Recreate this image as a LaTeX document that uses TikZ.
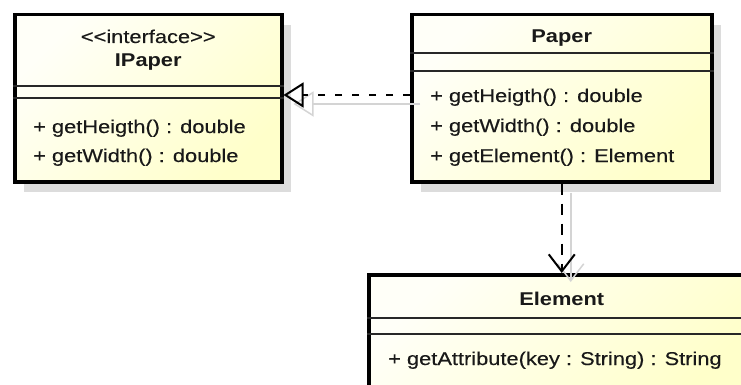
\documentclass[tikz,border=0pt]{standalone}
\usepackage{fontspec}
\newfontfamily\umlfont[FakeStretch=1.18,FakeBold=0.3,Ligatures=TeXOff]{Liberation Sans}
\newfontfamily\umlbold[FakeStretch=1.18,Ligatures=TeXOff]{Liberation Sans Bold}
\usetikzlibrary{arrows.meta,shadows,calc}
\definecolor{boxlight}{RGB}{255,255,248}
\definecolor{boxdeep}{RGB}{255,255,202}
\definecolor{shadowgray}{RGB}{220,220,220}
\definecolor{linkshadow}{RGB}{212,212,212}
\definecolor{sepgray}{RGB}{40,40,40}
\definecolor{inktext}{RGB}{25,25,25}

\begin{document}
\begin{tikzpicture}[x=1pt,y=-1pt,
  umlbox/.style={rectangle, draw=black, line width=3.5pt, anchor=north west,
    inner sep=0pt, top color=boxlight, bottom color=boxdeep, shading angle=45,
    drop shadow={shadow xshift=9pt, shadow yshift=-10pt, fill=shadowgray, opacity=1}},
  sepline/.style={draw=sepgray, line width=1.4pt},
  txt/.style={inner sep=0pt, font=\umlfont\fontsize{18.5}{30}\selectfont, text=inktext},
  titletxt/.style={txt, anchor=base, font=\umlbold\fontsize{18.5}{30}\selectfont},
  stereotxt/.style={txt, anchor=base},
  optxt/.style={txt, anchor=base west},
  realize/.style={draw=black, line width=2pt, dash pattern=on 7pt off 10pt,
    -{Triangle[open, length=20pt, width=25pt, line width=2pt]}},
  depend/.style={draw=black, line width=2pt, dash pattern=on 11pt off 9pt,
    -{Straight Barb[length=17pt, width=26pt, line width=2pt]}},
  linkshade/.style={draw=linkshadow, line width=1.5pt}
]
\useasboundingbox (0,0) rectangle (741,385);
\fill[white] (0,0) rectangle (741,385);
\clip (0,0) rectangle (741,385);

% class boxes
\node[umlbox, minimum width=267pt, minimum height=167pt] (ipaper) at (13,13) {};
\node[umlbox, minimum width=300pt, minimum height=167pt] (paper) at (410,13) {};
\node[umlbox, minimum width=386pt, minimum height=122pt] (element) at (367,273) {};

% compartment separators
\draw[sepline] (ipaper.west |- 0,86) -- (ipaper.east |- 0,86);
\draw[sepline] (ipaper.west |- 0,98) -- (ipaper.east |- 0,98);
\draw[sepline] (paper.west |- 0,53) -- (paper.east |- 0,53);
\draw[sepline] (paper.west |- 0,71) -- (paper.east |- 0,71);
\draw[sepline] (element.west |- 0,318) -- (element.east |- 0,318);
\draw[sepline] (element.west |- 0,334) -- (element.east |- 0,334);

% IPaper
\node[stereotxt] (ipstereo) at (ipaper.north |- 0,43) {<\kern0pt<interface>\kern0pt>};
\node[titletxt] (iptitle) at (ipaper.north |- 0,67) {IPaper};
\node[optxt] (ipop1) at (33,133) {+ getHeigth() : double};
\node[optxt] (ipop2) at (33,162) {+ getWidth() : double};

% Paper
\node[titletxt] (ptitle) at (paper.north |- 0,43) {Paper};
\node[optxt] (pop1) at (430,102) {+ getHeigth() : double};
\node[optxt] (pop2) at (430,132) {+ getWidth() : double};
\node[optxt] (pop3) at (430,162) {+ getElement() : Element};

% Element
\node[titletxt] (etitle) at (element.north |- 0,305) {Element};
\node[optxt] (eop1) at (388,365) {+ getAttribute(key : String) : String};

% connector shadows
\draw[linkshade, -{Triangle[open, length=20pt, width=25pt, line width=1.5pt]}]
  ($(paper.west |- 0,95)+(10,9)$) -- ($(ipaper.east |- 0,95)+(10,9)$);
\draw[linkshade, -{Straight Barb[length=17pt, width=26pt, line width=1.5pt]}]
  ($(paper.south)+(9,9)$) -- ($(element.north)+(9,9)$);

% realization and dependency
\draw[realize] (paper.west |- 0,95) -- (ipaper.east |- 0,95);
\draw[depend] (paper.south) -- (element.north);
\end{tikzpicture}
\end{document}
